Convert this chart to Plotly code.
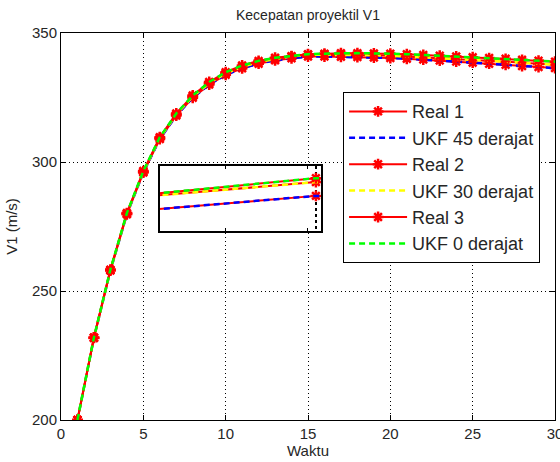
import plotly.graph_objects as go

# ---------------- data ----------------
waktu = list(range(1, 31))

real1 = [200.0, 231.8, 257.9, 279.7, 295.9, 308.9, 318.0, 324.9, 330.0, 333.8,
         336.3, 338.1, 339.4, 340.2, 340.9, 340.9, 340.8, 340.7, 340.5, 340.3,
         340.0, 339.7, 339.3, 338.9, 338.5, 338.1, 337.7, 337.2, 336.8, 336.4]
ukf45 = [200.0, 231.8, 257.9, 279.7, 295.9, 308.9, 318.0, 324.9, 330.0, 333.8,
         336.3, 338.1, 339.4, 340.2, 340.9, 340.9, 340.8, 340.7, 340.5, 340.3,
         340.0, 339.7, 339.3, 338.9, 338.5, 338.1, 337.7, 337.2, 336.8, 336.4]
real2 = [200.0, 231.9, 258.1, 280.0, 296.2, 309.3, 318.4, 325.4, 330.5, 334.3,
         336.9, 338.7, 339.9, 340.9, 341.6, 341.6, 341.6, 341.5, 341.4, 341.2,
         340.9, 340.6, 340.3, 340.0, 339.7, 339.3, 338.9, 338.5, 338.1, 337.7]
ukf30 = [200.0, 231.9, 258.1, 280.0, 296.2, 309.3, 318.4, 325.4, 330.5, 334.3,
         336.9, 338.7, 339.9, 340.9, 341.6, 341.6, 341.6, 341.5, 341.4, 341.2,
         340.9, 340.6, 340.3, 340.0, 339.7, 339.3, 338.9, 338.5, 338.1, 337.7]
real3 = [200.0, 232.0, 258.3, 280.2, 296.5, 309.6, 318.8, 325.8, 331.0, 334.8,
         337.4, 339.2, 340.4, 341.0, 341.8, 342.0, 342.2, 342.2, 342.1, 342.0,
         341.8, 341.5, 341.2, 340.9, 340.6, 340.3, 340.0, 339.6, 339.3, 338.9]
ukf0 = [200.0, 232.0, 258.3, 280.2, 296.5, 309.6, 318.8, 325.8, 331.0, 334.8,
        337.4, 339.2, 340.4, 341.0, 341.8, 342.0, 342.2, 342.2, 342.1, 342.0,
        341.8, 341.5, 341.2, 340.9, 340.6, 340.3, 340.0, 339.6, 339.3, 338.9]

series = [
    ("Real 1", real1, "real", "#FF0000"),
    ("UKF 45 derajat", ukf45, "ukf", "#0000FF"),
    ("Real 2", real2, "real", "#FF0000"),
    ("UKF 30 derajat", ukf30, "ukf", "#FFFF00"),
    ("Real 3", real3, "real", "#FF0000"),
    ("UKF 0 derajat", ukf0, "ukf", "#00FF00"),
]

x_ticks = [0, 5, 10, 15, 20, 25, 30]
y_ticks = [200, 250, 300, 350]

title_text = "Kecepatan proyektil V1"
x_title = "Waktu"
y_title = "V1 (m/s)"

FONT = "Liberation Sans, Arial, sans-serif"
TXT = "#262626"

fig = go.Figure()

for xa, ya, leg in [("x", "y", True), ("x2", "y2", False)]:
    for name, vals, kind, col in series:
        if kind == "real":
            fig.add_trace(go.Scatter(
                x=waktu, y=vals, name=name, xaxis=xa, yaxis=ya, showlegend=leg,
                mode="lines+markers",
                line=dict(color=col, width=2),
                marker=dict(symbol="asterisk-open", size=9,
                            line=dict(color=col, width=2.5)),
            ))
        else:
            fig.add_trace(go.Scatter(
                x=waktu, y=vals, name=name, xaxis=xa, yaxis=ya, showlegend=leg,
                mode="lines",
                line=dict(color=col, width=2.5, dash="6px,4px"),
            ))

axis_common = dict(
    showline=True, linecolor="black", linewidth=1, mirror="ticks",
    ticks="inside", ticklen=5, tickcolor="black",
    showgrid=True, gridcolor="black", gridwidth=1, griddash="1px,3px",
    zeroline=False, automargin=False,
    tickfont=dict(family=FONT, size=15, color=TXT),
)

fig.update_layout(
    width=560, height=462,
    margin=dict(l=61, r=5, t=33, b=42),
    paper_bgcolor="white", plot_bgcolor="white",
    font=dict(family=FONT, color=TXT),
    title=dict(text=title_text, x=0.55, xanchor="center", y=1 - 15 / 462,
               yanchor="middle", font=dict(family=FONT, size=14, color=TXT)),
    xaxis=dict(range=[0, 30], tickvals=x_ticks, ticklabeloverflow="allow",
               title=dict(text=x_title, font=dict(family=FONT, size=15, color=TXT),
                          standoff=4),
               **axis_common),
    yaxis=dict(range=[200, 350], tickvals=y_ticks,
               title=dict(text=y_title, font=dict(family=FONT, size=15, color=TXT),
                          standoff=10),
               **axis_common),
    xaxis2=dict(domain=[0.2004, 0.526], anchor="y2", range=[14.05, 15.03],
                showline=True, linecolor="black", linewidth=2, mirror="ticks",
                ticks="inside", ticklen=3, tickcolor="black",
                tickvals=[14.45, 14.95], showticklabels=False, showgrid=False,
                zeroline=False,
                minor=dict(tickvals=[15.0], showgrid=True, gridcolor="black",
                           gridwidth=2, griddash="3px,3px", ticks="")),
    yaxis2=dict(domain=[0.488, 0.656], anchor="x2", range=[339.11, 342.41],
                showline=True, linecolor="black", linewidth=2, mirror=True,
                ticks="", showticklabels=False, showgrid=False, zeroline=False),
    legend=dict(x=0.571, y=0.847, xanchor="left", yanchor="top",
                bgcolor="white", bordercolor="black", borderwidth=1,
                font=dict(family=FONT, size=18, color=TXT),
                itemwidth=58, tracegroupgap=0),
    showlegend=True,
)

fig.write_html("out.html")
